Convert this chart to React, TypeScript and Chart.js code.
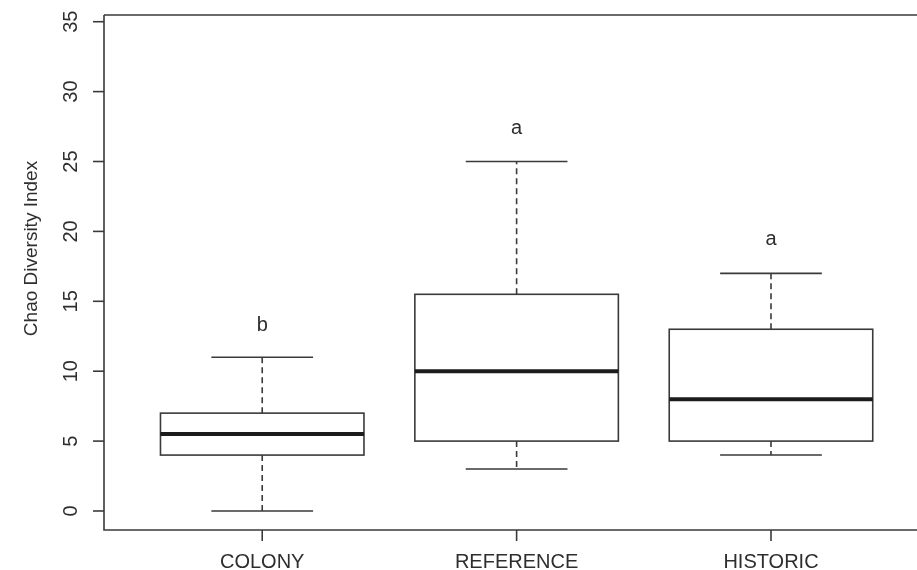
import React, { useEffect, useRef } from "react";
import { Chart, registerables } from "chart.js";

Chart.register(...registerables);

const categories = ["COLONY", "REFERENCE", "HISTORIC"];
const whiskerLow = [0, 3, 4];
const q1 = [4, 5, 5];
const median = [5.5, 10, 8];
const q3 = [7, 15.5, 13];
const whiskerHigh = [11, 25, 17];
const groupLetters = ["b", "a", "a"];
const letterY = [12.85, 27, 19];
const yTicks = [0, 5, 10, 15, 20, 25, 30, 35];
const yTitle = "Chao Diversity Index";

const LINE = "#3a3a3a";
const TEXT = "#2e2e2e";
const FONT = "20px 'Liberation Sans', Arial, sans-serif";

const boxPlugin = {
  id: "rbox",
  afterDatasetsDraw(chart: any) {
    const ctx = chart.ctx as CanvasRenderingContext2D;
    const xs = chart.scales.x;
    const ys = chart.scales.y;
    const area = chart.chartArea;
    ctx.save();
    ctx.lineCap = "butt";
    ctx.strokeStyle = LINE;
    ctx.lineWidth = 1.6;
    // frame
    ctx.beginPath();
    ctx.moveTo(area.left, area.top);
    ctx.lineTo(area.right + 20, area.top);
    ctx.moveTo(area.left, area.top);
    ctx.lineTo(area.left, area.bottom);
    ctx.lineTo(area.right + 20, area.bottom);
    ctx.stroke();

    // y ticks
    ctx.fillStyle = TEXT;
    ctx.font = FONT;
    for (const t of yTicks) {
      const py = ys.getPixelForValue(t);
      ctx.beginPath();
      ctx.moveTo(area.left - 11, py);
      ctx.lineTo(area.left, py);
      ctx.stroke();
      ctx.save();
      ctx.translate(area.left - 27, py);
      ctx.rotate(-Math.PI / 2);
      ctx.textAlign = "center";
      ctx.textBaseline = "alphabetic";
      ctx.fillText(String(t), 0, 0);
      ctx.restore();
    }
    // y title
    ctx.save();
    ctx.font = "19px 'Liberation Sans', Arial, sans-serif";
    ctx.translate(area.left - 67, (area.top + area.bottom) / 2 - 24);
    ctx.rotate(-Math.PI / 2);
    ctx.textAlign = "center";
    ctx.textBaseline = "alphabetic";
    ctx.fillText(yTitle, 0, 0);
    ctx.restore();

    // x ticks
    categories.forEach((c, i) => {
      const px = xs.getPixelForValue(i + 1);
      ctx.beginPath();
      ctx.moveTo(px, area.bottom);
      ctx.lineTo(px, area.bottom + 11);
      ctx.stroke();
      ctx.textAlign = "center";
      ctx.textBaseline = "alphabetic";
      ctx.fillText(c, px, area.bottom + 38);
    });

    // boxes
    categories.forEach((_, i) => {
      const cx = xs.getPixelForValue(i + 1);
      const halfBox = xs.getPixelForValue(i + 1 + 0.4) - cx;
      const halfCap = halfBox / 2;
      const yLo = ys.getPixelForValue(whiskerLow[i]);
      const yQ1 = ys.getPixelForValue(q1[i]);
      const yMed = ys.getPixelForValue(median[i]);
      const yQ3 = ys.getPixelForValue(q3[i]);
      const yHi = ys.getPixelForValue(whiskerHigh[i]);

      ctx.strokeStyle = LINE;
      ctx.lineWidth = 1.6;
      // whiskers dashed
      ctx.setLineDash([6, 4]);
      ctx.beginPath();
      ctx.moveTo(cx, yQ3);
      ctx.lineTo(cx, yHi);
      ctx.moveTo(cx, yQ1);
      ctx.lineTo(cx, yLo);
      ctx.stroke();
      ctx.setLineDash([]);
      // caps
      ctx.beginPath();
      ctx.moveTo(cx - halfCap, yHi);
      ctx.lineTo(cx + halfCap, yHi);
      ctx.moveTo(cx - halfCap, yLo);
      ctx.lineTo(cx + halfCap, yLo);
      ctx.stroke();
      // box
      ctx.fillStyle = "#ffffff";
      ctx.fillRect(cx - halfBox, yQ3, halfBox * 2, yQ1 - yQ3);
      ctx.strokeRect(cx - halfBox, yQ3, halfBox * 2, yQ1 - yQ3);
      // median
      ctx.strokeStyle = "#1c1c1c";
      ctx.lineWidth = 4;
      ctx.beginPath();
      ctx.moveTo(cx - halfBox, yMed);
      ctx.lineTo(cx + halfBox, yMed);
      ctx.stroke();
      // letters
      ctx.fillStyle = TEXT;
      ctx.font = FONT;
      ctx.textAlign = "center";
      ctx.textBaseline = "alphabetic";
      ctx.fillText(groupLetters[i], cx, ys.getPixelForValue(letterY[i]));
    });
    ctx.restore();
  },
};

export default function App() {
  const ref = useRef<HTMLCanvasElement | null>(null);
  useEffect(() => {
    if (!ref.current) return;
    const chart = new Chart(ref.current, {
      type: "scatter",
      data: {
        datasets: [
          {
            label: "median",
            data: median.map((m, i) => ({ x: i + 1, y: m })),
            pointRadius: 0,
            showLine: false,
          },
        ],
      },
      options: {
        animation: false,
        responsive: false,
        devicePixelRatio: 1,
        layout: { padding: { left: 104, top: 15, right: 0, bottom: 40 } },
        plugins: { legend: { display: false }, tooltip: { enabled: false } },
        scales: {
          x: { type: "linear", min: 0.378, max: 3.574, display: false },
          y: { type: "linear", min: -1.36, max: 35.48, display: false },
        },
      },
      plugins: [boxPlugin],
    });
    return () => chart.destroy();
  }, []);
  return (
    <div style={{ position: "fixed", left: 0, top: 0, width: 917, height: 570, overflow: "hidden", background: "#fff" }}>
      <canvas ref={ref} width={917} height={570} style={{ display: "block" }} />
    </div>
  );
}
